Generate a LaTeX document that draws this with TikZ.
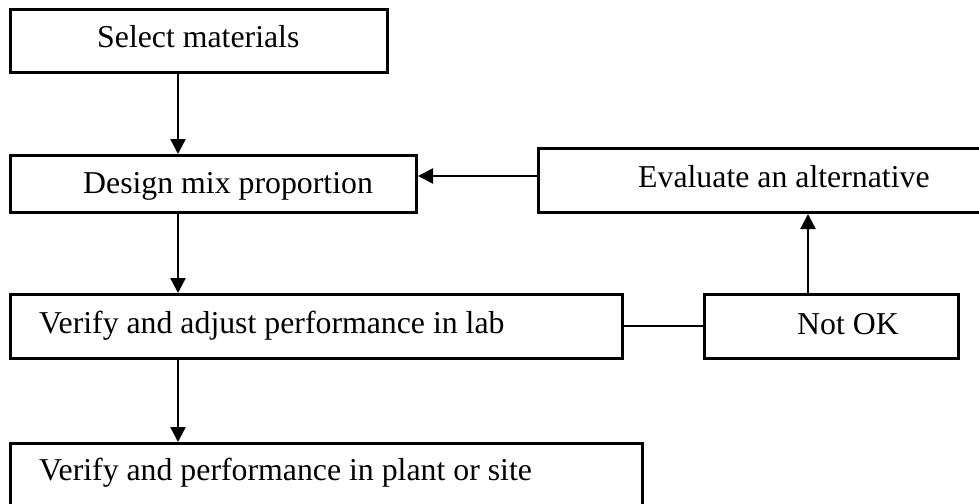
\documentclass[tikz,border=0pt]{standalone}
\usepackage{fontspec}
\setmainfont{Liberation Serif}
\usetikzlibrary{arrows.meta}
\begin{document}
\begin{tikzpicture}[x=1pt,y=-1pt,
  box/.style={draw=black, line width=3pt, fill=none, inner sep=0pt, anchor=north west},
  lbl/.style={anchor=base west, inner sep=0pt, font=\fontsize{31.8pt}{36pt}\selectfont},
  arr/.style={line width=2.4pt, -{Triangle[length=15pt,width=15pt]}},
  plain/.style={line width=2pt}]
\useasboundingbox (0,0) rectangle (979,503);
\clip (0,0) rectangle (979,503);
% boxes
\node[box, minimum width=377pt, minimum height=63pt] (b1) at (9,8) {};
\node[box, minimum width=406pt, minimum height=57pt] (b2) at (9,154) {};
\node[box, minimum width=490pt, minimum height=64pt] (b3) at (537,147) {};
\node[box, minimum width=612pt, minimum height=64pt] (b4) at (9,293) {};
\node[box, minimum width=254pt, minimum height=64pt] (b5) at (703,293) {};
\node[box, minimum width=632pt, minimum height=64pt] (b6) at (9,442) {};
% texts
\node[lbl] (t1) at (97,48) {Select materials};
\node[lbl] (t2) at (83,193) {Design mix proportion};
\node[lbl] (t3) at (638,187) {Evaluate an alternative};
\node[lbl] (t4) at (39,333) {Verify and adjust performance in lab};
\node[lbl] (t5) at (797,334) {Not OK};
\node[lbl] (t6) at (39,480) {Verify and performance in plant or site};
% guide coordinates
\coordinate (ax) at (178,0);
\coordinate (bx) at (808,0);
\coordinate (ay) at (0,176);
\coordinate (cy) at (0,326);
% connectors
\draw[arr] (b1.south -| ax) -- (b2.north -| ax);
\draw[arr] (b2.south -| ax) -- (b4.north -| ax);
\draw[arr] (b4.south -| ax) -- (b6.north -| ax);
\draw[arr] (b3.west |- ay) -- (b2.east |- ay);
\draw[arr] (b5.north -| bx) -- (b3.south -| bx);
\draw[plain] (b4.east |- cy) -- (b5.west |- cy);
\end{tikzpicture}
\end{document}
